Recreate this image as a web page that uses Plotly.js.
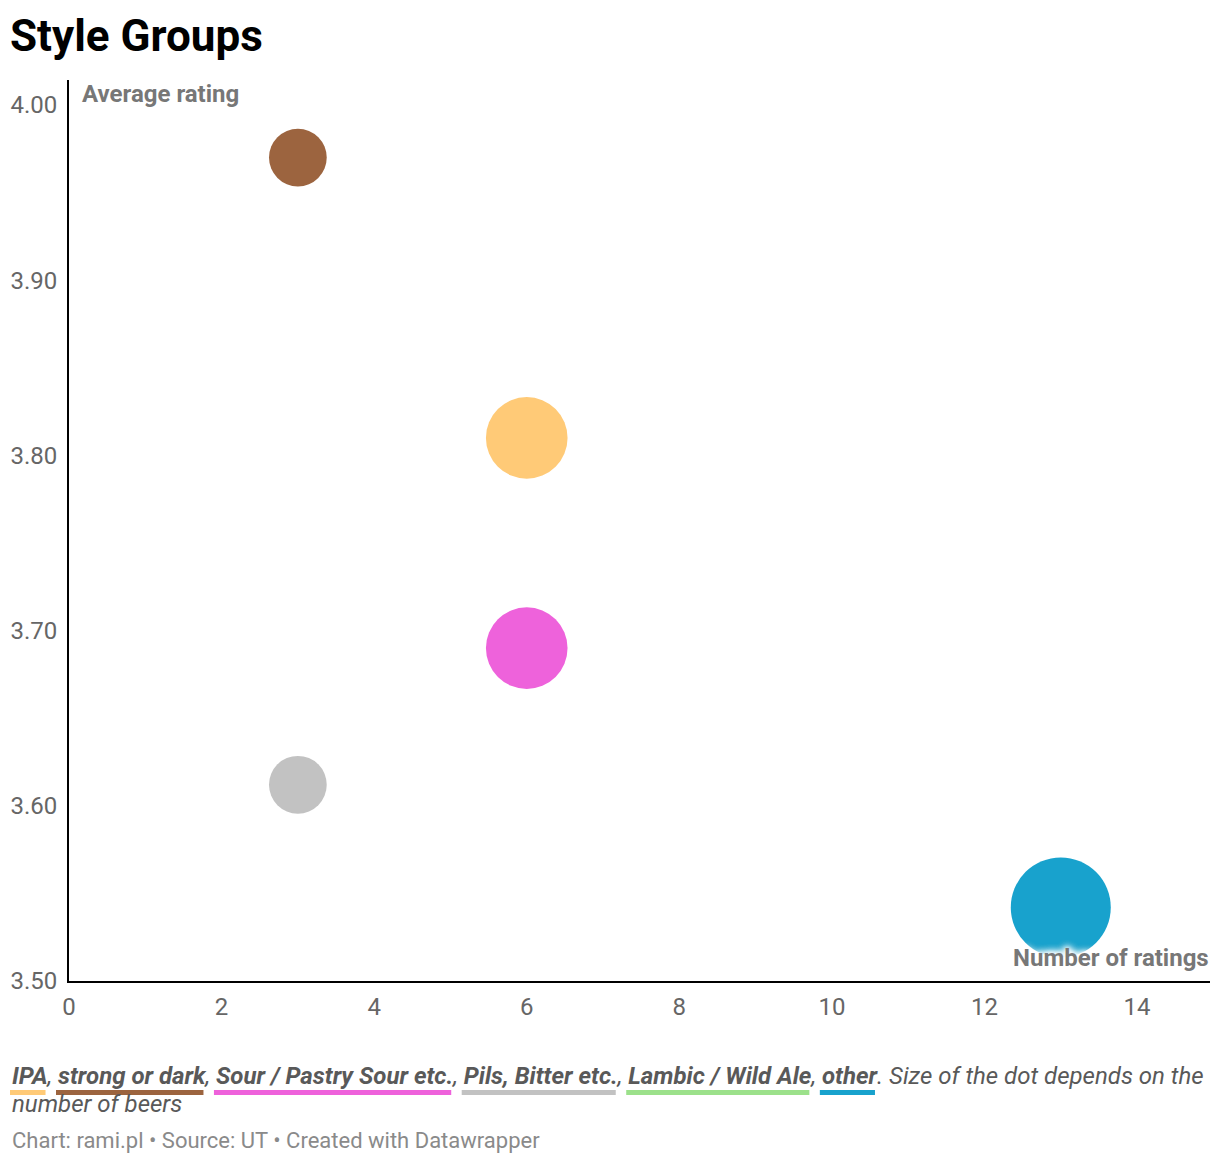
<!DOCTYPE html>
<html>
<head>
<meta charset="utf-8">
<script src="https://cdn.plot.ly/plotly-3.0.1.min.js"></script>
<style>html,body{margin:0;padding:0;background:#fff;}#chart{width:1220px;height:1164px;}</style>
</head>
<body>
<div id="chart"></div>
<script>
// ---- data ----
const categories = ['IPA', 'strong or dark', 'Sour / Pastry Sour etc.', 'Pils, Bitter etc.', 'Lambic / Wild Ale', 'other'];
const numberOfRatings = [6, 3, 6, 3, null, 13];
const averageRating = [3.81, 3.97, 3.69, 3.612, null, 3.542];
const numberOfBeers = [2, 1, 2, 1, null, 3];
const colors = ['#ffca77', '#9c643f', '#ee62db', '#c2c2c2', '#9ce18b', '#18a2cd'];
const xTicks = [0, 2, 4, 6, 8, 10, 12, 14];
const yTicks = [3.5, 3.6, 3.7, 3.8, 3.9, 4.0];

// ---- layout geometry ----
const W = 1220, H = 1164;
const ml = 69, mr = 10, mt = 80, mb = 183;
const pw = W - ml - mr, ph = H - mt - mb;
const px = v => (v - ml) / pw;
const py = v => (H - mb - v) / ph;
const FONT = 'Roboto, "Noto Sans", sans-serif';

const pts = categories.map((c, i) => i).filter(i => numberOfRatings[i] !== null);

const trace = {
  type: 'scatter',
  mode: 'markers',
  x: pts.map(i => numberOfRatings[i]),
  y: pts.map(i => averageRating[i]),
  text: pts.map(i => categories[i]),
  hoverinfo: 'text+x+y',
  marker: {
    size: pts.map(i => numberOfBeers[i]),
    sizemode: 'area',
    sizeref: 2 * 3 / (100 * 100),
    color: pts.map(i => colors[i]),
    opacity: 1,
    line: {width: 0}
  },
  cliponaxis: false,
  showlegend: false
};

// ---- legend line built from categories ----
const canvas = document.createElement('canvas');
const ctx = canvas.getContext('2d');
const LFS = 24;
const boldFont = 'italic 700 ' + LFS + 'px Roboto';
const regFont = 'italic 400 ' + LFS + 'px Roboto';
let cursor = 10;
let html = '';
const shapes = [];
categories.forEach((c, i) => {
  ctx.font = boldFont;
  const w = ctx.measureText(c).width;
  shapes.push({
    type: 'rect', xref: 'paper', yref: 'paper',
    x0: px(cursor), x1: px(cursor + w), y0: py(1095), y1: py(1090),
    fillcolor: colors[i], line: {width: 0}
  });
  html += '<b>' + c + '</b>';
  cursor += w;
  const sep = i < categories.length - 1 ? ', ' : '. Size of the dot depends on the';
  ctx.font = regFont;
  cursor += ctx.measureText(sep).width;
  html += sep;
});

const annotations = [
  {
    text: 'Average rating', xref: 'paper', yref: 'paper',
    x: px(80), y: py(94), xanchor: 'left', yanchor: 'middle', showarrow: false,
    font: {family: FONT, size: 24, color: '#777777', weight: 700}
  },
  {
    text: 'Number of ratings', xref: 'paper', yref: 'paper',
    x: px(1211), y: py(958), xanchor: 'right', yanchor: 'middle', showarrow: false,
    font: {family: FONT, size: 24, color: '#777777', weight: 700,
      shadow: '0 0 4px #fff, 0 0 6px #fff, 0 0 8px #fff, 0 0 8px #fff, 0 0 10px #fff'}
  },
  {
    text: '<i>' + html + '</i>', xref: 'paper', yref: 'paper',
    x: px(10), y: py(1076), xanchor: 'left', yanchor: 'middle', showarrow: false,
    font: {family: FONT, size: LFS, color: '#595959'}
  },
  {
    text: '<i>number of beers</i>', xref: 'paper', yref: 'paper',
    x: px(10), y: py(1104), xanchor: 'left', yanchor: 'middle', showarrow: false,
    font: {family: FONT, size: LFS, color: '#595959'}
  },
  {
    text: 'Chart: rami.pl • Source: UT • Created with Datawrapper', xref: 'paper', yref: 'paper',
    x: px(10), y: py(1140), xanchor: 'left', yanchor: 'middle', showarrow: false,
    font: {family: FONT, size: 22, color: '#8a8a8a'}
  }
];

const layout = {
  width: W, height: H,
  margin: {l: ml, r: mr, t: mt, b: mb, pad: 0},
  paper_bgcolor: '#ffffff', plot_bgcolor: '#ffffff',
  font: {family: FONT, color: '#666666'},
  title: {
    text: 'Style Groups', xref: 'container', yref: 'container',
    x: 10 / W, xanchor: 'left', y: 1 - 36 / H, yanchor: 'middle',
    font: {family: FONT, size: 44, color: '#000000', weight: 700}
  },
  xaxis: {
    range: [0, pw / 76.29],
    tickvals: xTicks, ticktext: xTicks.map(String),
    showgrid: false, zeroline: false,
    showline: true, linecolor: '#000000', linewidth: 2,
    ticks: '', ticklabelstandoff: 3,
    tickfont: {family: FONT, size: 24, color: '#666666'},
    fixedrange: true
  },
  yaxis: {
    range: [3.5, 3.5 + ph / 1752],
    tickvals: yTicks, ticktext: yTicks.map(v => v.toFixed(2)),
    showgrid: false, zeroline: false,
    showline: true, linecolor: '#000000', linewidth: 2,
    ticks: '', ticklabelstandoff: 5,
    tickfont: {family: FONT, size: 24, color: '#666666'},
    fixedrange: true
  },
  shapes: shapes,
  annotations: annotations,
  hovermode: 'closest'
};

Plotly.newPlot('chart', [trace], layout, {displayModeBar: false, responsive: false});
</script>
</body>
</html>
